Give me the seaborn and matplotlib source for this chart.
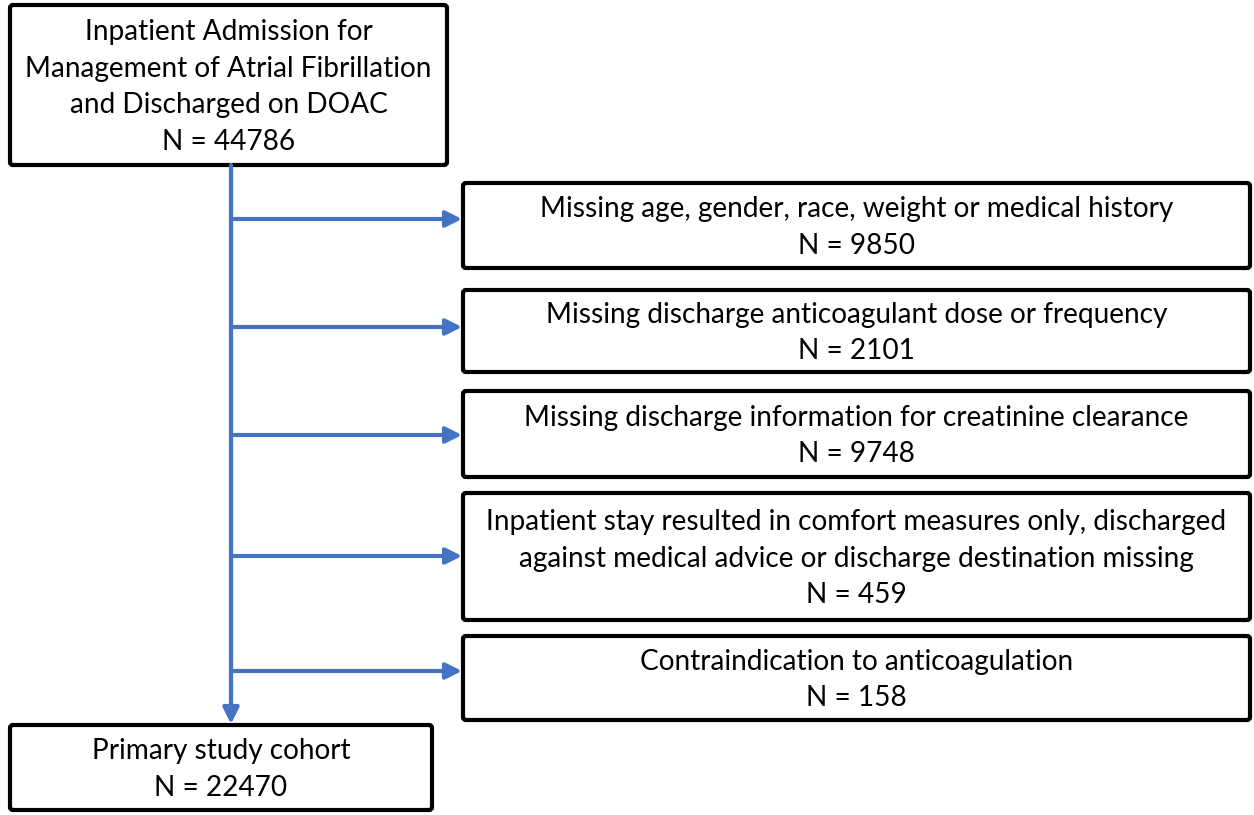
"""
Flowchart of cohort selection for DOAC study.
"""

import matplotlib.pyplot as plt
import seaborn as sns
from matplotlib.patches import FancyBboxPatch

# box contents
start_label = "Inpatient Admission for\nManagement of Atrial Fibrillation\nand Discharged on DOAC"
start_n = 44786

exclusion_labels = [
    "Missing age, gender, race, weight or medical history",
    "Missing discharge anticoagulant dose or frequency",
    "Missing discharge information for creatinine clearance",
    "Inpatient stay resulted in comfort measures only, discharged\nagainst medical advice or discharge destination missing",
    "Contraindication to anticoagulation",
]
exclusion_n = [9850, 2101, 9748, 459, 158]

final_label = "Primary study cohort"
final_n = 22470

# layout (pixel coords, y down)
W, H = 1254, 815
start_box = (10, 5, 447, 165)
final_box = (10, 725, 432, 810)
excl_boxes = [
    (463, 183, 1250, 268),
    (463, 290, 1250, 372),
    (463, 391, 1250, 477),
    (463, 493, 1250, 620),
    (463, 636, 1250, 720),
]
arrow_y = [219, 327, 435, 556, 671]
trunk_x = 231

BLUE = "#4472C4"
FONT = 20.2

sns.set_theme(style="white")
plt.rcParams["font.family"] = ["Lato", "DejaVu Sans"]

fig = plt.figure(figsize=(W / 100, H / 100), dpi=100)
ax = fig.add_axes([0, 0, 1, 1])
ax.set_xlim(0, W)
ax.set_ylim(H, 0)
ax.axis("off")


def draw_box(box, text):
    x0, y0, x1, y1 = box
    ax.add_patch(FancyBboxPatch((x0, y0), x1 - x0, y1 - y0,
                                boxstyle="round,pad=0,rounding_size=3",
                                fc="white", ec="black", lw=3))
    ax.text((x0 + x1) / 2, (y0 + y1) / 2 + 2, text, ha="center", va="center",
            fontsize=FONT, linespacing=1.52, color="black")


draw_box(start_box, f"{start_label}\nN = {start_n}")
draw_box(final_box, f"{final_label}\nN = {final_n}")
for box, lab, n in zip(excl_boxes, exclusion_labels, exclusion_n):
    draw_box(box, f"{lab}\nN = {n}")

arrow_kw = dict(arrowstyle="-|>,head_length=0.8,head_width=0.4",
                color=BLUE, lw=3, shrinkA=0, shrinkB=0)

# main trunk
ax.annotate("", xy=(trunk_x, final_box[1] - 1), xytext=(trunk_x, start_box[3]),
            arrowprops=arrow_kw)
# side branches
for y, box in zip(arrow_y, excl_boxes):
    ax.annotate("", xy=(box[0] - 1, y), xytext=(trunk_x, y), arrowprops=arrow_kw)

fig.savefig("out.png", dpi=100)
